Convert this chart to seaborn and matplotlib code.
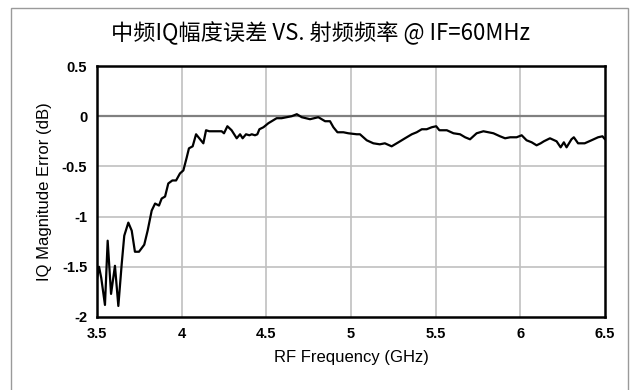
import matplotlib
matplotlib.use("Agg")
import matplotlib.pyplot as plt
import matplotlib.patches as mpatches
import seaborn as sns
import pandas as pd

freq_ghz = [3.5, 3.512, 3.525, 3.547, 3.563, 3.583, 3.606, 3.626, 3.646, 3.661, 3.685,
            3.705, 3.724, 3.748, 3.779, 3.799, 3.823, 3.843, 3.866, 3.882, 3.902,
            3.921, 3.945, 3.967, 3.99, 4.01, 4.03, 4.043, 4.065, 4.085, 4.104,
            4.128, 4.144, 4.163, 4.207, 4.236, 4.25, 4.27, 4.295, 4.325, 4.345,
            4.36, 4.38, 4.40, 4.414, 4.433, 4.447, 4.459, 4.483, 4.512, 4.561,
            4.59, 4.62, 4.65, 4.68, 4.709, 4.758, 4.807, 4.847, 4.876, 4.896,
            4.92, 4.955, 4.984, 5.034, 5.053, 5.093, 5.132, 5.17, 5.20, 5.24,
            5.28, 5.319, 5.359, 5.388, 5.418, 5.447, 5.477, 5.503, 5.522, 5.566,
            5.605, 5.644, 5.674, 5.703, 5.742, 5.782, 5.841, 5.88, 5.91, 5.94,
            5.978, 6.008, 6.037, 6.067, 6.096, 6.12, 6.139, 6.175, 6.214, 6.238,
            6.257, 6.273, 6.302, 6.316, 6.341, 6.38, 6.42, 6.459, 6.485, 6.5]
error_db = [-1.62, -1.50, -1.61, -1.88, -1.24, -1.77, -1.49, -1.89, -1.47, -1.19, -1.06,
            -1.14, -1.35, -1.35, -1.28, -1.14, -0.94, -0.87, -0.89, -0.82, -0.80,
            -0.67, -0.64, -0.64, -0.57, -0.54, -0.41, -0.32, -0.30, -0.18, -0.22,
            -0.27, -0.14, -0.15, -0.15, -0.15, -0.17, -0.10, -0.14, -0.22, -0.18,
            -0.22, -0.18, -0.19, -0.18, -0.19, -0.18, -0.13, -0.11, -0.07, -0.02,
            -0.02, -0.01, 0.00, 0.02, -0.01, -0.03, -0.01, -0.05, -0.05, -0.11,
            -0.16, -0.16, -0.17, -0.18, -0.18, -0.24, -0.27, -0.28, -0.27, -0.30,
            -0.26, -0.22, -0.18, -0.16, -0.13, -0.13, -0.11, -0.10, -0.14, -0.14,
            -0.17, -0.18, -0.21, -0.23, -0.17, -0.15, -0.17, -0.20, -0.22, -0.21,
            -0.21, -0.19, -0.24, -0.26, -0.29, -0.27, -0.25, -0.22, -0.25, -0.31,
            -0.26, -0.31, -0.23, -0.21, -0.27, -0.27, -0.24, -0.21, -0.20, -0.23]

x_ticks = [3.5, 4, 4.5, 5, 5.5, 6, 6.5]
x_tick_labels = ["3.5", "4", "4.5", "5", "5.5", "6", "6.5"]
y_ticks = [0.5, 0, -0.5, -1, -1.5, -2]
y_tick_labels = ["0.5", "0", "-0.5", "-1", "-1.5", "-2"]
title = "中频IQ幅度误差 VS. 射频频率 @ IF=60MHz"
x_label = "RF Frequency (GHz)"
y_label = "IQ Magnitude Error (dB)"

df = pd.DataFrame({"freq": freq_ghz, "err": error_db})

sns.set_theme(style="white")
plt.rcParams['font.family'] = ['Liberation Sans Narrow', 'Liberation Sans', 'DejaVu Sans']

fig = plt.figure(figsize=(6.38, 3.90), dpi=100)
ax = fig.add_axes([97/638, 1 - 317/390, (605-97)/638, (317-66)/390])

for xv in x_ticks[1:-1]:
    ax.axvline(xv, color="#c0c0c0", lw=1.2, zorder=0)
for yv in y_ticks[1:-1]:
    ax.axhline(yv, color="#808080" if yv == 0 else "#c0c0c0",
               lw=1.6 if yv == 0 else 1.2, zorder=0)

sns.lineplot(data=df, x="freq", y="err", ax=ax, color="black", lw=1.6,
             estimator=None, sort=False)

ax.set_xlim(3.5, 6.5)
ax.set_ylim(-2, 0.5)
ax.set_xticks(x_ticks)
ax.set_xticklabels(x_tick_labels, fontweight="bold", fontsize=10.5)
ax.set_yticks(y_ticks)
ax.set_yticklabels(y_tick_labels, fontweight="bold", fontsize=10.5)
ax.tick_params(length=0, pad=7, colors="black")
ax.set_xlabel(x_label, fontsize=12, labelpad=7, color="black")
ax.set_ylabel(y_label, fontsize=12, labelpad=7, color="black")
ax.grid(False)
for s in ax.spines.values():
    s.set_color("black")
    s.set_linewidth(1.8)

fig.text(0.503, 1 - 33/390, title, ha="center", va="center", fontsize=16,
         fontweight="medium", color="black",
         family=["Noto Sans CJK SC", "DejaVu Sans"])

border = mpatches.Rectangle((11/638, -0.05), 617/638, 1 - 8/390 + 0.05,
                            transform=fig.transFigure, fill=False,
                            edgecolor="#9a9a9a", lw=1.0, clip_on=False)
fig.patches.append(border)

fig.savefig("out.png", dpi=100)
